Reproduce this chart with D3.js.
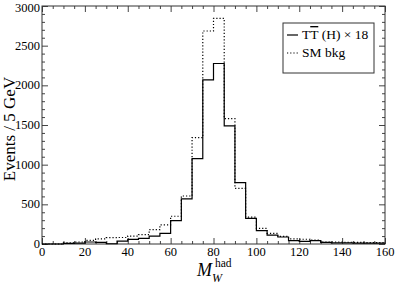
<!DOCTYPE html>
<html>
<head>
<meta charset="utf-8">
<script src="https://cdn.jsdelivr.net/npm/d3@7"></script>
<style>
  body { margin: 0; background: #fff; }
  svg { display: block; font-family: "Liberation Serif", "DejaVu Serif", serif; }
  .hist { fill: none; stroke: #000; stroke-width: 1.2; }
  .bkg { stroke-dasharray: 1.2, 2; }
  .tick line { stroke: #444; }
</style>
</head>
<body>
<svg width="395" height="284"></svg>
<script>
// bin edges, 5 GeV wide
const binEdges = d3.range(0, 165, 5);
// TT(H) x 18, one value per bin
const signal = [0, 0, 8, 12, 25, 20, 3, 35, 58, 72, 100, 135, 295, 570, 1075, 2070,
  2275, 1490, 773, 324, 169, 112, 88, 42, 33, 42, 21, 15, 15, 12, 10, 10];
// SM background
const smBkg = [0, 0, 15, 25, 45, 65, 80, 82, 100, 118, 180, 240, 350, 605, 1340, 2685,
  2845, 1580, 702, 339, 196, 133, 96, 65, 60, 48, 25, 25, 22, 20, 18, 18];
const xTicks = [0, 20, 40, 60, 80, 100, 120, 140, 160];
const yTicks = [0, 500, 1000, 1500, 2000, 2500, 3000];

const svg = d3.select("svg"),
    width = +svg.attr("width"),
    height = +svg.attr("height");
const margin = {top: 6, right: 10, bottom: 40, left: 42};
const w = width - margin.left - margin.right,
    h = height - margin.top - margin.bottom;

const g = svg.append("g").attr("transform", `translate(${margin.left},${margin.top})`);

const x = d3.scaleLinear().domain([0, 160]).range([0, w]);
const y = d3.scaleLinear().domain([0, 3000]).range([h, 0]);

// frame ticks, all pointing inward
function ticks(axis, vals, len) {
  return axis.tickValues(vals).tickSize(len).tickFormat("");
}
const xMinor = d3.range(0, 161, 5).filter(v => v % 20);
const yMinor = d3.range(0, 3001, 100).filter(v => v % 500);

g.append("g").attr("transform", `translate(0,${h})`).call(ticks(d3.axisTop(x), xMinor, 3));
g.append("g").attr("transform", `translate(0,${h})`).call(ticks(d3.axisTop(x), xTicks, 6));
g.append("g").call(ticks(d3.axisBottom(x), xMinor, 3));
g.append("g").call(ticks(d3.axisBottom(x), xTicks, 6));
g.append("g").call(ticks(d3.axisRight(y), yMinor, 3));
g.append("g").call(ticks(d3.axisRight(y), yTicks, 6));
g.append("g").attr("transform", `translate(${w},0)`).call(ticks(d3.axisLeft(y), yMinor, 3));
g.append("g").attr("transform", `translate(${w},0)`).call(ticks(d3.axisLeft(y), yTicks, 6));
g.selectAll(".domain").remove();

g.append("rect")
    .attr("width", w).attr("height", h)
    .attr("fill", "none").attr("stroke", "#333").attr("stroke-width", 1);

// tick labels
g.selectAll(".xl")
    .data(xTicks)
    .enter()
    .append("text")
    .attr("x", d => x(d))
    .attr("y", h + 12)
    .attr("text-anchor", "middle")
    .attr("font-size", 12.5)
    .text(d => d);

g.selectAll(".yl")
    .data(yTicks)
    .enter()
    .append("text")
    .attr("x", -2)
    .attr("y", d => Math.max(y(d) + 4, 6))
    .attr("text-anchor", "end")
    .attr("font-size", 12.5)
    .text(d => d);

// histograms
const step = vals => {
  const pts = vals.map((v, i) => [binEdges[i], v]);
  pts.push([binEdges[vals.length], vals[vals.length - 1]]);
  return d3.line().x(d => x(d[0])).y(d => y(d[1])).curve(d3.curveStepAfter)(pts);
};

g.append("path").attr("class", "hist bkg").attr("d", step(smBkg));
g.append("path").attr("class", "hist").attr("d", step(signal));

// axis titles
svg.append("text")
    .attr("transform", `translate(15,${margin.top + 123}) rotate(-90)`)
    .attr("text-anchor", "middle")
    .attr("font-size", 17)
    .text("Events / 5 GeV");

svg.append("text").attr("x", 197).attr("y", 276)
    .attr("font-size", 18).attr("font-style", "italic").text("M");
svg.append("text").attr("x", 212).attr("y", 282)
    .attr("font-size", 12).attr("font-style", "italic").text("W");
svg.append("text").attr("x", 215).attr("y", 267)
    .attr("font-size", 11.5).text("had");

// legend
const lg = svg.append("g").attr("transform", "translate(283,23)");
lg.append("rect")
    .attr("width", 91).attr("height", 50)
    .attr("fill", "#fff").attr("stroke", "#333").attr("stroke-width", 1);
const items = [
  {cls: "hist", ty: 12},
  {cls: "hist bkg", ty: 30}
];
lg.selectAll(".ll")
    .data(items)
    .enter()
    .append("line")
    .attr("class", d => d.cls)
    .attr("x1", 4).attr("x2", 15)
    .attr("y1", d => d.ty).attr("y2", d => d.ty);

const t1 = lg.append("text").attr("x", 19).attr("y", 16).attr("font-size", 13.5);
t1.append("tspan").text("T");
t1.append("tspan").style("text-decoration", "overline").text("T");
t1.append("tspan").text(" (H) \u00d7 18");
lg.append("text").attr("x", 19).attr("y", 34).attr("font-size", 13.5).text("SM bkg");
</script>
</body>
</html>
